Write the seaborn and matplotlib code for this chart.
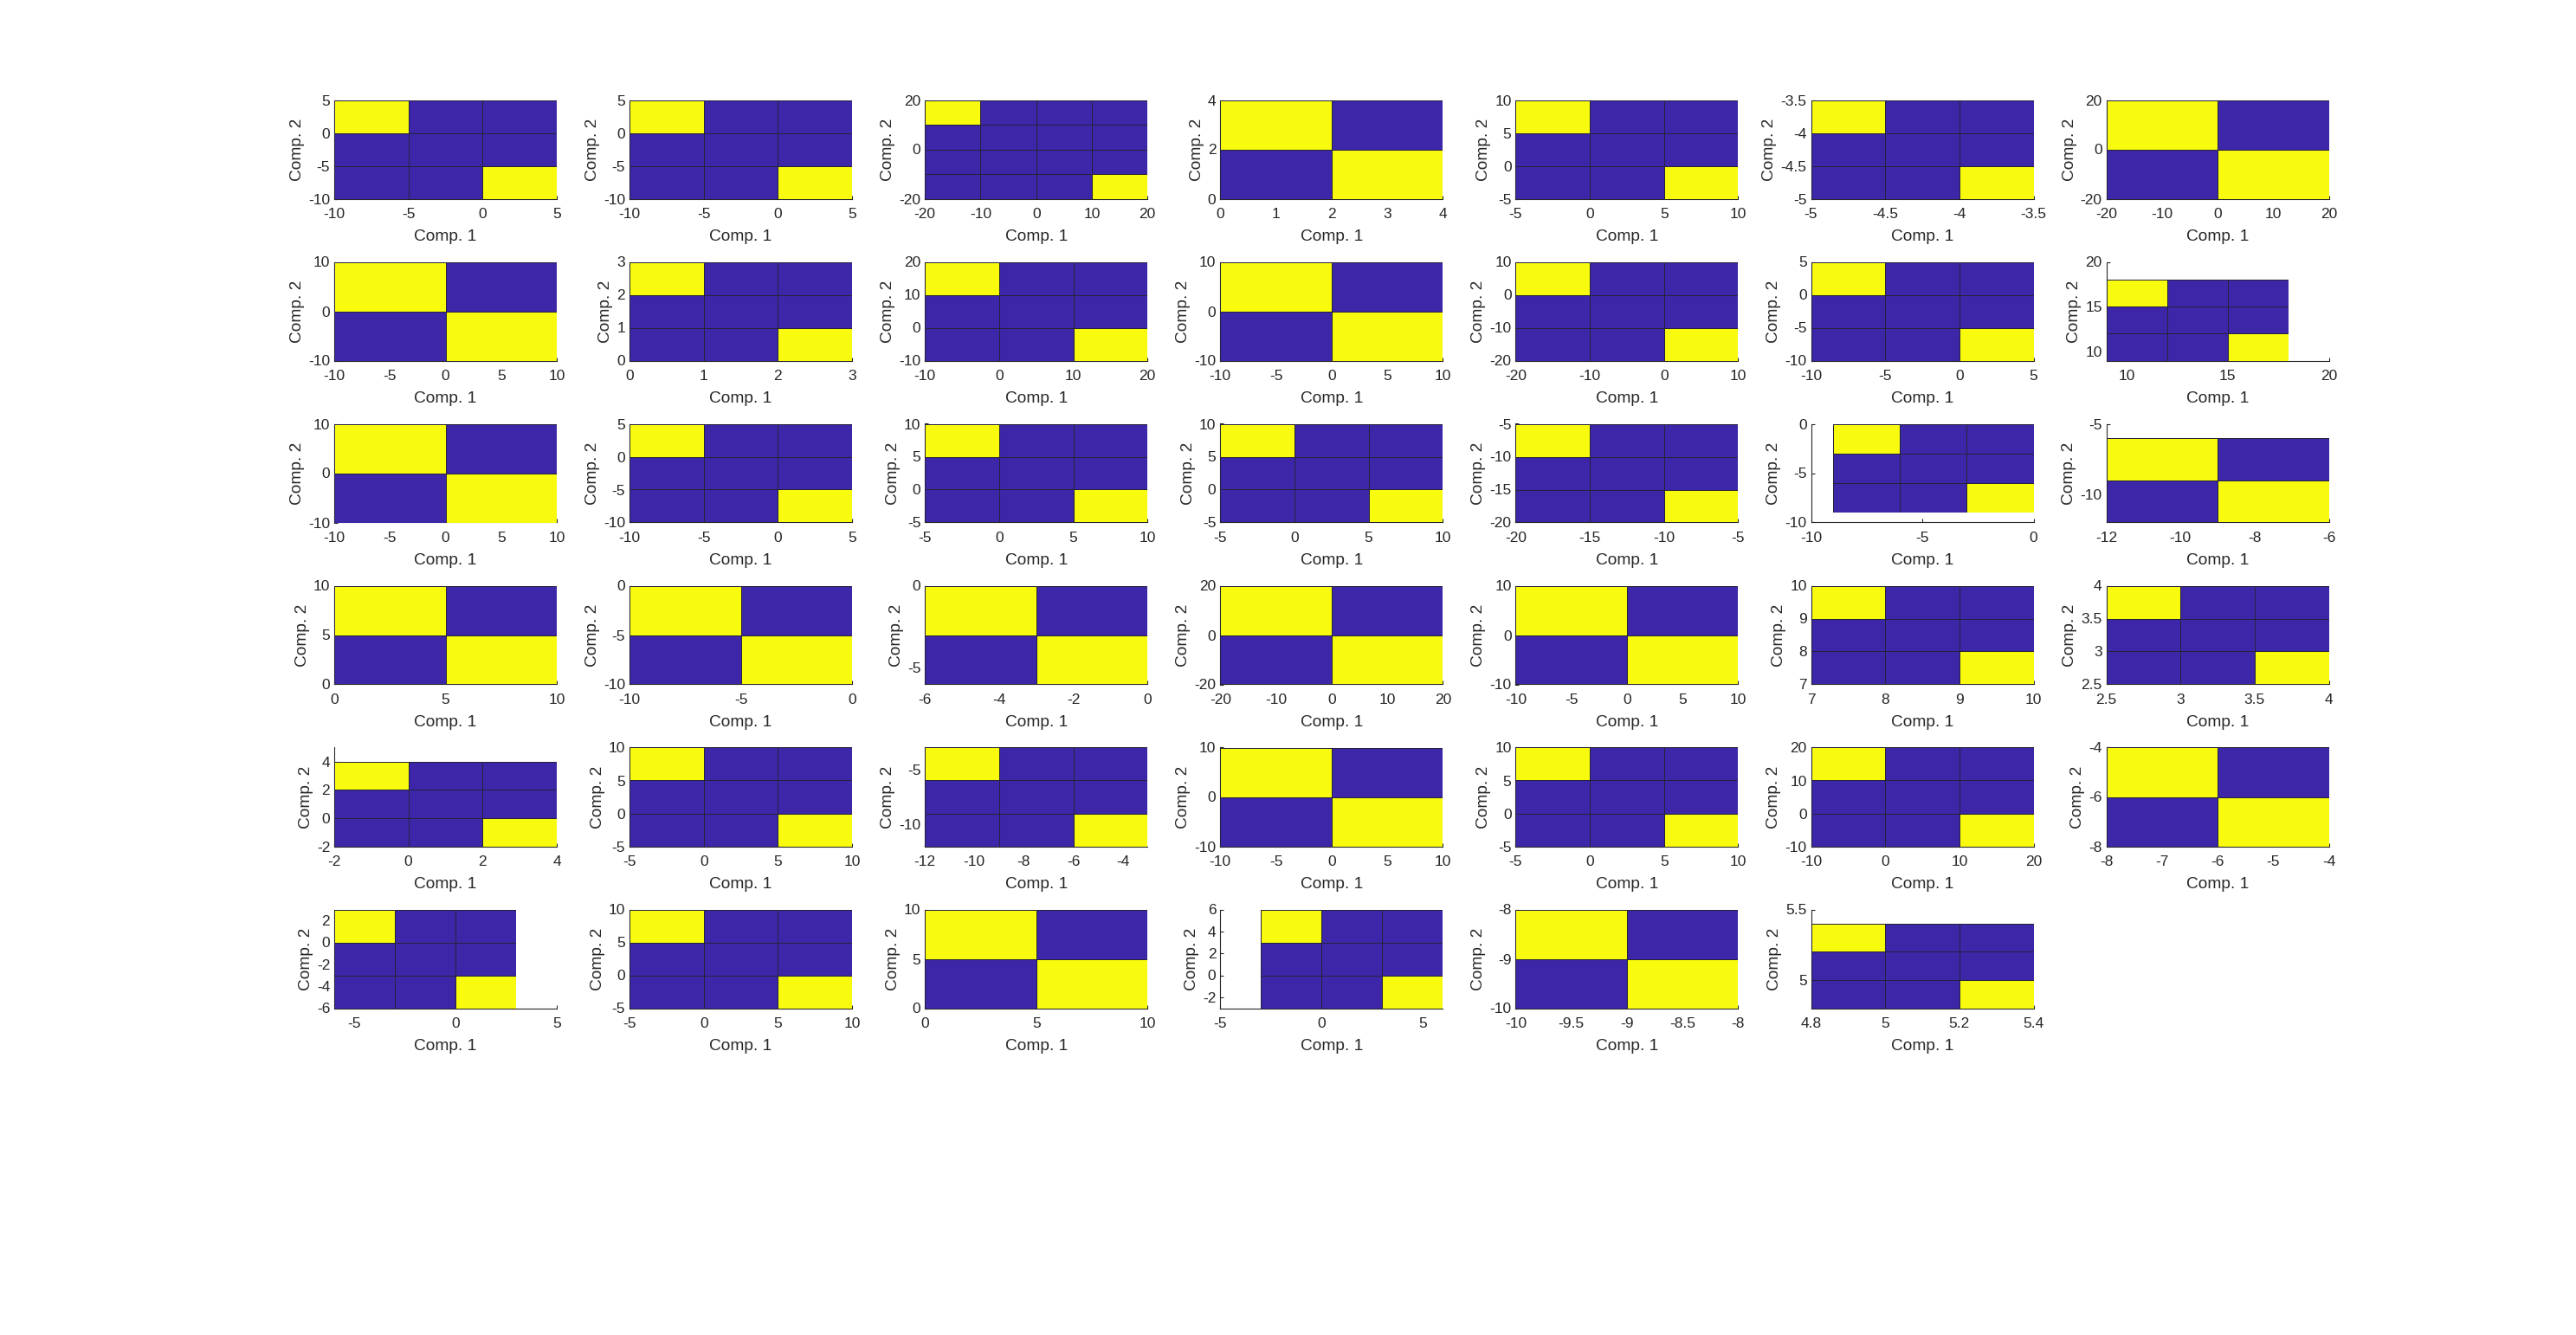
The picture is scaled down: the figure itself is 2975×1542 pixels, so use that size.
import matplotlib
matplotlib.use("Agg")
import numpy as np
import matplotlib.pyplot as plt
from matplotlib.colors import ListedColormap
import seaborn as sns

# cells per side of each map (row by row, 7 per row)
grid_size = [3, 3, 4, 2, 3, 3, 2,
             2, 3, 3, 2, 3, 3, 3,
             2, 3, 3, 3, 3, 3, 2,
             2, 2, 2, 2, 2, 3, 3,
             3, 3, 3, 2, 3, 3, 2,
             3, 3, 2, 3, 2, 3]

# span of the cells along Comp. 1 and Comp. 2
cell_x = [(-10, 5), (-10, 5), (-20, 20), (0, 4), (-5, 10), (-5, -3.5), (-20, 20),
          (-10, 10), (0, 3), (-10, 20), (-10, 10), (-20, 10), (-10, 5), (9, 18),
          (-10, 10), (-10, 5), (-5, 10), (-5, 10), (-20, -5), (-9, 0), (-12, -6),
          (0, 10), (-10, 0), (-6, 0), (-20, 20), (-10, 10), (7, 10), (2.5, 4),
          (-2, 4), (-5, 10), (-12, -3), (-10, 10), (-5, 10), (-10, 20), (-8, -4),
          (-6, 3), (-5, 10), (0, 10), (-3, 6), (-10, -8), (4.8, 5.4)]
cell_y = [(-10, 5), (-10, 5), (-20, 20), (0, 4), (-5, 10), (-5, -3.5), (-20, 20),
          (-10, 10), (0, 3), (-10, 20), (-10, 10), (-20, 10), (-10, 5), (9, 18),
          (-10, 10), (-10, 5), (-5, 10), (-5, 10), (-20, -5), (-9, 0), (-12, -6),
          (0, 10), (-10, 0), (-6, 0), (-20, 20), (-10, 10), (7, 10), (2.5, 4),
          (-2, 4), (-5, 10), (-12, -3), (-10, 10), (-5, 10), (-10, 20), (-8, -4),
          (-6, 3), (-5, 10), (0, 10), (-3, 6), (-10, -8), (4.8, 5.4)]

# axis limits
x_limits = [(-10, 5), (-10, 5), (-20, 20), (0, 4), (-5, 10), (-5, -3.5), (-20, 20),
            (-10, 10), (0, 3), (-10, 20), (-10, 10), (-20, 10), (-10, 5), (9, 20),
            (-10, 10), (-10, 5), (-5, 10), (-5, 10), (-20, -5), (-10, 0), (-12, -6),
            (0, 10), (-10, 0), (-6, 0), (-20, 20), (-10, 10), (7, 10), (2.5, 4),
            (-2, 4), (-5, 10), (-12, -3), (-10, 10), (-5, 10), (-10, 20), (-8, -4),
            (-6, 5), (-5, 10), (0, 10), (-5, 6), (-10, -8), (4.8, 5.4)]
y_limits = [(-10, 5), (-10, 5), (-20, 20), (0, 4), (-5, 10), (-5, -3.5), (-20, 20),
            (-10, 10), (0, 3), (-10, 20), (-10, 10), (-20, 10), (-10, 5), (9, 20),
            (-10, 10), (-10, 5), (-5, 10), (-5, 10), (-20, -5), (-10, 0), (-12, -5),
            (0, 10), (-10, 0), (-6, 0), (-20, 20), (-10, 10), (7, 10), (2.5, 4),
            (-2, 5), (-5, 10), (-12, -3), (-10, 10), (-5, 10), (-10, 20), (-8, -4),
            (-6, 3), (-5, 10), (0, 10), (-3, 6), (-10, -8), (4.8, 5.5)]

x_ticks = [[-10, -5, 0, 5], [-10, -5, 0, 5], [-20, -10, 0, 10, 20], [0, 1, 2, 3, 4],
           [-5, 0, 5, 10], [-5, -4.5, -4, -3.5], [-20, -10, 0, 10, 20],
           [-10, -5, 0, 5, 10], [0, 1, 2, 3], [-10, 0, 10, 20], [-10, -5, 0, 5, 10],
           [-20, -10, 0, 10], [-10, -5, 0, 5], [10, 15, 20],
           [-10, -5, 0, 5, 10], [-10, -5, 0, 5], [-5, 0, 5, 10], [-5, 0, 5, 10],
           [-20, -15, -10, -5], [-10, -5, 0], [-12, -10, -8, -6],
           [0, 5, 10], [-10, -5, 0], [-6, -4, -2, 0], [-20, -10, 0, 10, 20],
           [-10, -5, 0, 5, 10], [7, 8, 9, 10], [2.5, 3, 3.5, 4],
           [-2, 0, 2, 4], [-5, 0, 5, 10], [-12, -10, -8, -6, -4], [-10, -5, 0, 5, 10],
           [-5, 0, 5, 10], [-10, 0, 10, 20], [-8, -7, -6, -5, -4],
           [-5, 0, 5], [-5, 0, 5, 10], [0, 5, 10], [-5, 0, 5],
           [-10, -9.5, -9, -8.5, -8], [4.8, 5, 5.2, 5.4]]
y_ticks = [[-10, -5, 0, 5], [-10, -5, 0, 5], [-20, 0, 20], [0, 2, 4],
           [-5, 0, 5, 10], [-5, -4.5, -4, -3.5], [-20, 0, 20],
           [-10, 0, 10], [0, 1, 2, 3], [-10, 0, 10, 20], [-10, 0, 10],
           [-20, -10, 0, 10], [-10, -5, 0, 5], [10, 15, 20],
           [-10, 0, 10], [-10, -5, 0, 5], [-5, 0, 5, 10], [-5, 0, 5, 10],
           [-20, -15, -10, -5], [-10, -5, 0], [-10, -5],
           [0, 5, 10], [-10, -5, 0], [-5, 0], [-20, 0, 20],
           [-10, 0, 10], [7, 8, 9, 10], [2.5, 3, 3.5, 4],
           [-2, 0, 2, 4], [-5, 0, 5, 10], [-10, -5], [-10, 0, 10],
           [-5, 0, 5, 10], [-10, 0, 10, 20], [-8, -6, -4],
           [-6, -4, -2, 0, 2], [-5, 0, 5, 10], [0, 5, 10], [-2, 0, 2, 4, 6],
           [-10, -9, -8], [5, 5.5]]

# hit pattern for each grid size (rows listed top to bottom)
hits_2 = [[1, 0],
          [0, 1]]
hits_3 = [[1, 0, 0],
          [0, 0, 0],
          [0, 0, 1]]
hits_4 = [[1, 0, 0, 0],
          [0, 0, 0, 0],
          [0, 0, 0, 0],
          [0, 0, 0, 1]]
hit_patterns = {2: hits_2, 3: hits_3, 4: hits_4}

cell_cmap = ListedColormap(["#3E26A8", "#F9FB0E"])
ink = "#262626"

sns.set_theme(style="white")
plt.rcParams["font.family"] = ["Liberation Sans", "DejaVu Sans"]
plt.rcParams["axes.unicode_minus"] = False

W, H = 2975, 1542
fig = plt.figure(figsize=(W / 100, H / 100), dpi=100)
fig.patch.set_facecolor("white")

ax_w, ax_h = 257, 114
for i in range(len(grid_size)):
    row, col = divmod(i, 7)
    left = 386 + 341.1 * col
    top = 115.5 + 187 * row
    ax = fig.add_axes([left / W, 1 - (top + ax_h) / H, ax_w / W, ax_h / H])
    ax.set_facecolor("white")
    ax.set_xlim(*x_limits[i])
    ax.set_ylim(*y_limits[i])
    ax.set_xticks(x_ticks[i])
    ax.set_yticks(y_ticks[i])
    ax.set_xticklabels(["%g" % t for t in x_ticks[i]])
    ax.set_yticklabels(["%g" % t for t in y_ticks[i]])
    ax.tick_params(direction="in", length=3, width=0.8, colors=ink,
                   labelsize=12.5, bottom=True, left=True, top=False, right=False)
    ax.tick_params(axis="x", pad=7.5)
    ax.tick_params(axis="y", pad=3.5)
    for side in ["top", "right"]:
        ax.spines[side].set_visible(False)
    for side in ["left", "bottom"]:
        ax.spines[side].set_color(ink)
        ax.spines[side].set_linewidth(0.8)
    ax.set_xlabel("Comp. 1", fontsize=13.8, color=ink, labelpad=7.5)
    ax.set_ylabel("Comp. 2", fontsize=13.8, color=ink, labelpad=3)

    # the hit grid, placed in data coordinates of the parent axes
    x0, x1 = cell_x[i]
    y0, y1 = cell_y[i]
    ins = ax.inset_axes([x0, y0, x1 - x0, y1 - y0], transform=ax.transData)
    sns.heatmap(np.array(hit_patterns[grid_size[i]]), ax=ins, cmap=cell_cmap,
                vmin=0, vmax=1, cbar=False, linewidths=0.6, linecolor="#24243a",
                xticklabels=False, yticklabels=False)
    ins.set_xlabel("")
    ins.set_ylabel("")
    ins.tick_params(left=False, bottom=False)

fig.savefig("out.png", dpi=100, facecolor="white")
